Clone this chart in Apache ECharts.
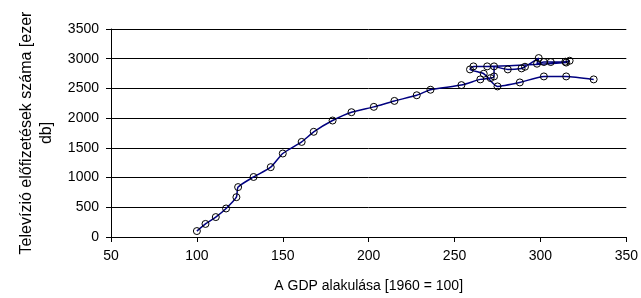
<!DOCTYPE html>
<html>
<head>
<meta charset="utf-8">
<script src="https://cdn.jsdelivr.net/npm/echarts@6/dist/echarts.min.js"></script>
<style>
  html, body { margin: 0; padding: 0; background: #fff; }
  #chart { width: 641px; height: 298px; }
</style>
</head>
<body>
<div id="chart"></div>
<script>
// GDP index (1960 = 100) and TV subscriptions (thousand), one point per year
const gdp = [100, 105, 111, 117, 123, 124, 133, 143, 150, 161, 168, 179, 190, 203, 215, 228, 236,
  254, 265, 271, 273, 273, 281, 289, 291, 299, 298, 302, 306, 314.5, 317, 315,
  269, 261, 259, 267, 275, 288, 302, 315, 331]
const tv = [100, 220, 335, 480, 670, 840, 1010, 1175, 1405, 1600, 1770, 1960, 2100, 2190, 2290, 2385, 2478,
  2556, 2652, 2674, 2702, 2871, 2820, 2837, 2865, 3011, 2916, 2944, 2944, 2950, 2966, 2935,
  2871, 2871, 2820, 2747, 2534, 2601, 2702, 2702, 2652]

const xName = 'A GDP alakulása [1960 = 100]'
const yName = 'Televízió előfizetések száma [ezer\ndb]'

const points = gdp.map((g, i) => [g, tv[i]])

const chart = echarts.init(document.getElementById('chart'))
const font = 'Liberation Sans, Arial, sans-serif'

chart.setOption({
  animation: false,
  backgroundColor: '#fff',
  grid: {
    left: 111,
    right: 14,
    top: 29,
    bottom: 61
  },
  xAxis: {
    type: 'value',
    min: 50,
    max: 350,
    interval: 50,
    name: xName,
    nameLocation: 'middle',
    nameGap: 42,
    nameTextStyle: { color: '#000', fontSize: 14, fontFamily: font },
    axisLine: { show: true, lineStyle: { color: '#000', width: 1 } },
    axisTick: { show: true, length: 5, lineStyle: { color: '#000' } },
    axisLabel: { color: '#000', fontSize: 14, fontFamily: font, margin: 12 },
    splitLine: { show: false }
  },
  yAxis: {
    type: 'value',
    min: 0,
    max: 3500,
    interval: 500,
    name: yName,
    nameLocation: 'middle',
    nameGap: 47,
    nameTextStyle: { color: '#000', fontSize: 16, fontFamily: font, lineHeight: 20 },
    axisLine: { show: true, lineStyle: { color: '#000', width: 1 } },
    axisTick: { show: true, length: 5, lineStyle: { color: '#000' } },
    axisLabel: { color: '#000', fontSize: 14, fontFamily: font, margin: 12, formatter: v => String(v) },
    splitLine: { show: true, lineStyle: { color: '#000', width: 1 } }
  },
  series: [{
    type: 'line',
    data: points,
    smooth: 0.2,
    symbol: 'circle',
    symbolSize: 7,
    lineStyle: { color: '#000080', width: 1.5 },
    itemStyle: { color: 'transparent', borderColor: '#000', borderWidth: 1 }
  }]
})
</script>
</body>
</html>
